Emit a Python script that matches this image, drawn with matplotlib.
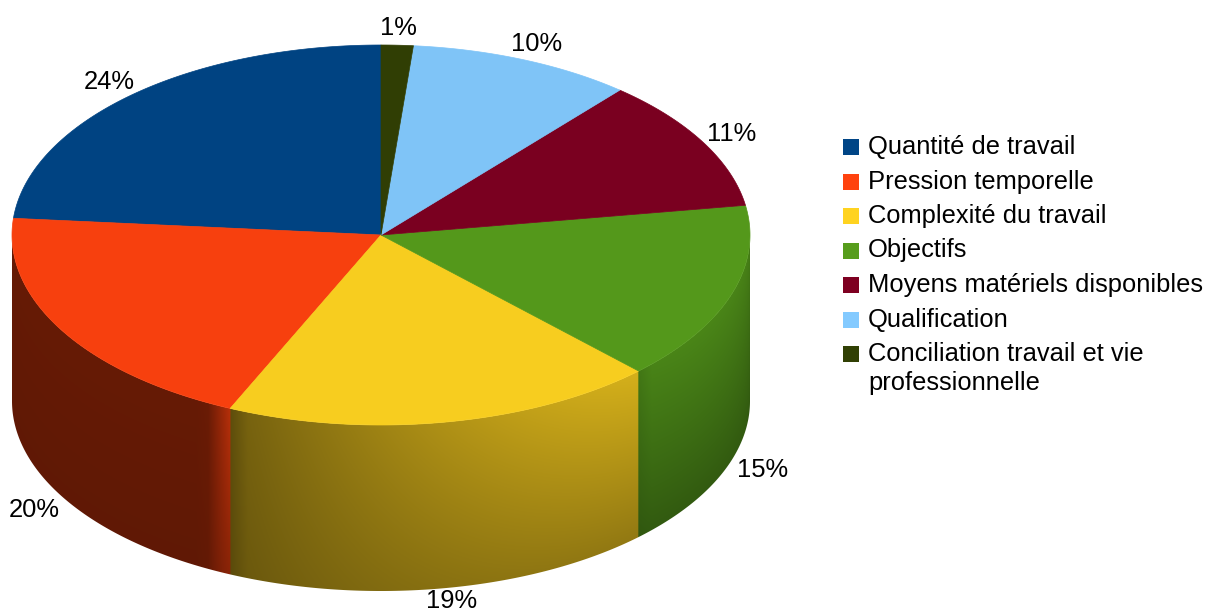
import numpy as np
import matplotlib.pyplot as plt
import matplotlib.colors as mcolors
from matplotlib.patches import Polygon, Rectangle

plt.rcParams['font.family'] = ['Liberation Sans', 'DejaVu Sans']

# data (counter-clockwise from the top)
categories = ['Quantité de travail', 'Pression temporelle', 'Complexité du travail',
              'Objectifs', 'Moyens matériels disponibles', 'Qualification',
              'Conciliation travail et vie\nprofessionnelle']
values = [23.6, 19.7, 19.0, 15.2, 11.3, 9.8, 1.4]
colors = ['#004586', '#ff420e', '#ffd320', '#579d1c', '#7e0021', '#83caff', '#314004']

# layout of the fake 3d pie, in pixels
cx, cy, rx, ry, depth = 381, 235, 369, 190, 166
fs = 18.4

fig = plt.figure(figsize=(12.1, 6.15), dpi=100)
ax = fig.add_axes([0, 0, 1, 1])
ax.set_xlim(0, 1210)
ax.set_ylim(615, 0)
ax.axis('off')

frac = np.array(values) / sum(values)
bounds = 90 + 360 * np.concatenate([[0], np.cumsum(frac)])


def pt(t):
    r = np.radians(t)
    return cx + rx * np.cos(r), cy - ry * np.sin(r)


# side of the cylinder (front half), shaded as an image clipped to its outline
x0, x1 = cx - rx, cx + rx
y0, y1 = cy, cy + ry + depth
xs = np.linspace(x0, x1, 1500)
ys = np.linspace(y0, y1, 800)
X, Y = np.meshgrid(xs, ys)
u = np.clip((X - cx) / rx, -1, 1)
T = 360 - np.degrees(np.arccos(u))
ytop = cy - ry * np.sin(np.radians(T))
V = np.clip((Y - ytop) / depth, 0, 1)

img = np.ones(X.shape + (4,))
for i in range(len(values)):
    a, b = bounds[i], bounds[i + 1]
    m = (T >= a) & (T < b)
    if not m.any():
        continue
    base = np.array(mcolors.to_rgb(colors[i]))
    f = 0.4 + 0.45 * np.maximum(0, np.cos(np.radians(T - 330)))
    ramp = np.clip(1 - (b - T) / 4, 0, 1)
    f = np.maximum(f, 0.4 + 0.32 * ramp)
    f = f - 0.08 * np.clip(1 - (T - a) / 3, 0, 1)
    # brighter faces fade more towards the bottom
    f = f * (1 - 0.32 * V * np.clip((f - 0.3) / 0.55, 0, 1))
    img[m, :3] = np.clip(base[None, :] * f[m][:, None], 0, 1)

ts = np.linspace(180, 360, 400)
tx, ty = pt(ts)
outline = list(zip(tx, ty)) + list(zip(tx[::-1], ty[::-1] + depth))
clip = Polygon(outline, closed=True, facecolor='none', edgecolor='none',
               transform=ax.transData)
ax.add_patch(clip)
im = ax.imshow(img, extent=(x0, x1, y1, y0), origin='upper', interpolation='bilinear',
               aspect='auto', zorder=1)
im.set_clip_path(clip)

# top face
for i in range(len(values)):
    ts = np.linspace(bounds[i], bounds[i + 1], 200)
    px, py = pt(ts)
    verts = [(cx, cy)] + list(zip(px, py))
    top = np.array(mcolors.to_rgb(colors[i])) * 0.97
    ax.add_patch(Polygon(verts, closed=True, facecolor=top, edgecolor=top,
                         linewidth=0.5, zorder=2))

# percentage labels
for i, v in enumerate(values):
    mid = np.radians(0.5 * (bounds[i] + bounds[i + 1]))
    lx = cx + 1.09 * rx * np.cos(mid)
    ly = cy - 1.09 * ry * np.sin(mid)
    if np.sin(mid) < 0:
        ly = min(ly + depth + 4, 601)
    ax.text(lx, ly, f'{round(v):.0f}%', fontsize=fs, ha='center', va='center')

ax.set_xlim(0, 1210)
ax.set_ylim(615, 0)

# legend
for i, name in enumerate(categories):
    y = 147 + 34.5 * i
    ax.add_patch(Rectangle((843, y - 8), 16, 16, facecolor=colors[i], edgecolor='none'))
    for j, line in enumerate(name.split('\n')):
        ax.text(868, y + 29 * j, line, fontsize=fs, ha='left', va='center')

plt.savefig('out.png', dpi=100)
